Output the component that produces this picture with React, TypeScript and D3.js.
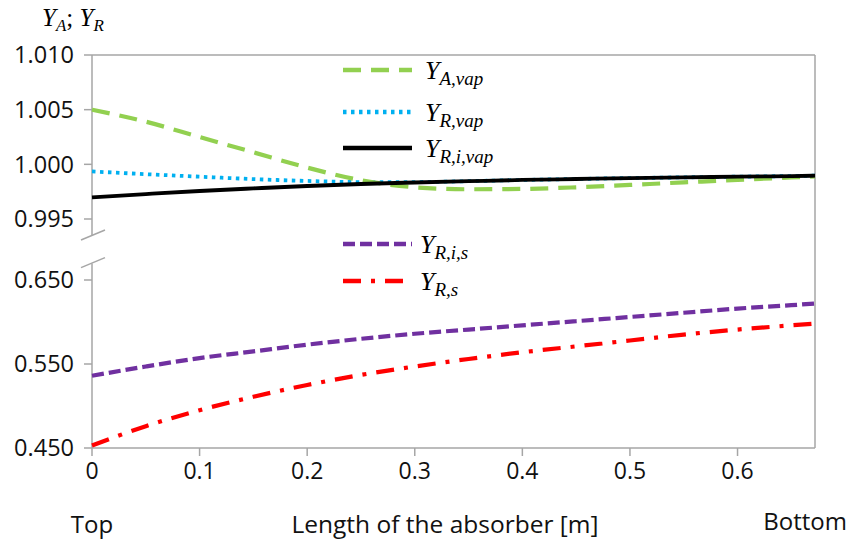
import React from "react";
import * as d3 from "d3";

const xs = [0, 0.05, 0.1, 0.15, 0.2, 0.25, 0.3, 0.35, 0.4, 0.45, 0.5, 0.55, 0.6, 0.65, 0.672];
const yAvap = [1.005, 1.0039, 1.0025, 1.0011, 0.9997, 0.99855, 0.9979, 0.99772, 0.99775, 0.9979, 0.99812, 0.99835, 0.99858, 0.9988, 0.9989];
const yRvap = [0.99935, 0.9991, 0.99887, 0.99865, 0.99848, 0.99838, 0.99838, 0.99846, 0.99857, 0.99866, 0.99874, 0.99881, 0.99887, 0.99893, 0.99896];
const yRivap = [0.99698, 0.99728, 0.99756, 0.9978, 0.99802, 0.9982, 0.99834, 0.99846, 0.99857, 0.99866, 0.99874, 0.99881, 0.99887, 0.99893, 0.99896];
const yRis = [0.536, 0.547, 0.557, 0.565, 0.573, 0.58, 0.586, 0.591, 0.596, 0.601, 0.606, 0.611, 0.616, 0.62, 0.622];
const yRs = [0.453, 0.476, 0.495, 0.511, 0.525, 0.537, 0.547, 0.556, 0.564, 0.571, 0.578, 0.585, 0.591, 0.596, 0.598];

const xTicks = [0, 0.1, 0.2, 0.3, 0.4, 0.5, 0.6];
const topTicks = [1.01, 1.005, 1.0, 0.995];
const botTicks = [0.65, 0.55, 0.45];

const W = 848, H = 545;
const x = d3.scaleLinear().domain([0, 0.672]).range([92, 815]);
const yTop = d3.scaleLinear().domain([0.995, 1.01]).range([219, 55]);
const yBot = d3.scaleLinear().domain([0.45, 0.65]).range([448, 280]);
const topMin = 0.99344;
const botMax = 0.6695;

const AX = "#A6A6A6";
const tickFont = "'Open Sans', sans-serif";
const mathFont = "'Liberation Serif', 'DejaVu Serif', serif";

function path(ys: number[], sc: d3.ScaleLinear<number, number>) {
  const gen = d3
    .line<number>()
    .x((_, i) => x(xs[i]))
    .y((v) => sc(v))
    .curve(d3.curveMonotoneX);
  return gen(ys) || "";
}

const series = [
  { ys: yRvap, sc: yTop, color: "#00B0F0", w: 3.8, dash: "3.5 4.5", name: "R,vap", ly: 112 },
  { ys: yAvap, sc: yTop, color: "#92D050", w: 4.2, dash: "18 10", name: "A,vap", ly: 70 },
  { ys: yRivap, sc: yTop, color: "#000000", w: 3.8, dash: "", name: "R,i,vap", ly: 148 },
  { ys: yRis, sc: yBot, color: "#7030A0", w: 4.2, dash: "12 5", name: "R,i,s", ly: 244 },
  { ys: yRs, sc: yBot, color: "#FF0000", w: 4.2, dash: "18 10 4 10", name: "R,s", ly: 281 },
];

function MathLabel({ x0, y0, sub, size = 26, subSize = 19 }: { x0: number; y0: number; sub: string; size?: number; subSize?: number }) {
  return (
    <text x={x0} y={y0} fontFamily={mathFont} fontStyle="italic" fontSize={size} fill="#000">
      <tspan>Y</tspan>
      <tspan dy={6} fontSize={subSize}>{sub}</tspan>
    </text>
  );
}

export default function App() {
  return (
    <svg width={W} height={H} style={{ position: "absolute", left: 0, top: 0, background: "#fff" }}>
      {/* frame */}
      <line x1={x(0)} x2={815} y1={55} y2={55} stroke={AX} strokeWidth={1.5} />
      <line x1={815} x2={815} y1={55} y2={448} stroke={AX} strokeWidth={1.5} />
      <line x1={x(0)} x2={815} y1={yBot(0.45)} y2={yBot(0.45)} stroke={AX} strokeWidth={1.5} />
      {/* left axis broken */}
      <line x1={x(0)} x2={x(0)} y1={55} y2={yTop(topMin)} stroke={AX} strokeWidth={1.5} />
      <line x1={x(0)} x2={x(0)} y1={yBot(botMax)} y2={448} stroke={AX} strokeWidth={1.5} />
      <line x1={81} x2={105} y1={yTop(topMin) + 4} y2={yTop(topMin) - 6} stroke={AX} strokeWidth={1.5} />
      <line x1={81} x2={105} y1={yBot(botMax) + 4} y2={yBot(botMax) - 6} stroke={AX} strokeWidth={1.5} />
      {/* y ticks */}
      {topTicks.map((t) => (
        <g key={"t" + t}>
          <line x1={x(0) - 8} x2={x(0)} y1={yTop(t)} y2={yTop(t)} stroke={AX} strokeWidth={1.5} />
          <text x={74} y={yTop(t)} dy="0.36em" textAnchor="end" fontFamily={tickFont} fontSize={23.5} fill="#111">
            {t.toFixed(3)}
          </text>
        </g>
      ))}
      {botTicks.map((t) => (
        <g key={"b" + t}>
          <line x1={x(0) - 8} x2={x(0)} y1={yBot(t)} y2={yBot(t)} stroke={AX} strokeWidth={1.5} />
          <text x={74} y={yBot(t)} dy="0.36em" textAnchor="end" fontFamily={tickFont} fontSize={23.5} fill="#111">
            {t.toFixed(3)}
          </text>
        </g>
      ))}
      {/* x ticks */}
      {xTicks.map((t) => (
        <g key={"x" + t}>
          <line x1={x(t)} x2={x(t)} y1={448} y2={456} stroke={AX} strokeWidth={1.5} />
          <text x={x(t)} y={471} dy="0.36em" textAnchor="middle" fontFamily={tickFont} fontSize={23} fill="#111">
            {t === 0 ? "0" : String(t)}
          </text>
        </g>
      ))}
      <text x={x(0)} y={524} dy="0.36em" textAnchor="middle" fontFamily={tickFont} fontSize={24} fill="#111">Top</text>
      <text x={445} y={524} dy="0.36em" textAnchor="middle" fontFamily={tickFont} fontSize={24.5} fill="#111">Length of the absorber [m]</text>
      <text x={847} y={521} dy="0.36em" textAnchor="end" fontFamily={tickFont} fontSize={24} fill="#111">Bottom</text>
      {/* y title */}
      <text x={42} y={26} fontFamily={mathFont} fontStyle="italic" fontSize={25} fill="#000">
        <tspan>Y</tspan>
        <tspan dy={5} fontSize={17}>A</tspan>
        <tspan dy={-5} fontStyle="normal">; </tspan>
        <tspan>Y</tspan>
        <tspan dy={5} fontSize={17}>R</tspan>
      </text>
      {/* series */}
      {series.map((s) => (
        <path
          key={s.name}
          d={path(s.ys, s.sc)}
          fill="none"
          stroke={s.color}
          strokeWidth={s.w}
          strokeDasharray={s.dash || undefined}
        />
      ))}
      {/* legend */}
      {series.map((s) => (
        <g key={"l" + s.name}>
          <line
            x1={343}
            x2={412}
            y1={s.ly}
            y2={s.ly}
            stroke={s.color}
            strokeWidth={s.w + 0.5}
            strokeDasharray={s.dash || undefined}
          />
          <MathLabel x0={s.ly > 200 ? 420 : 425} y0={s.ly + 9} sub={s.name} />
        </g>
      ))}
    </svg>
  );
}
